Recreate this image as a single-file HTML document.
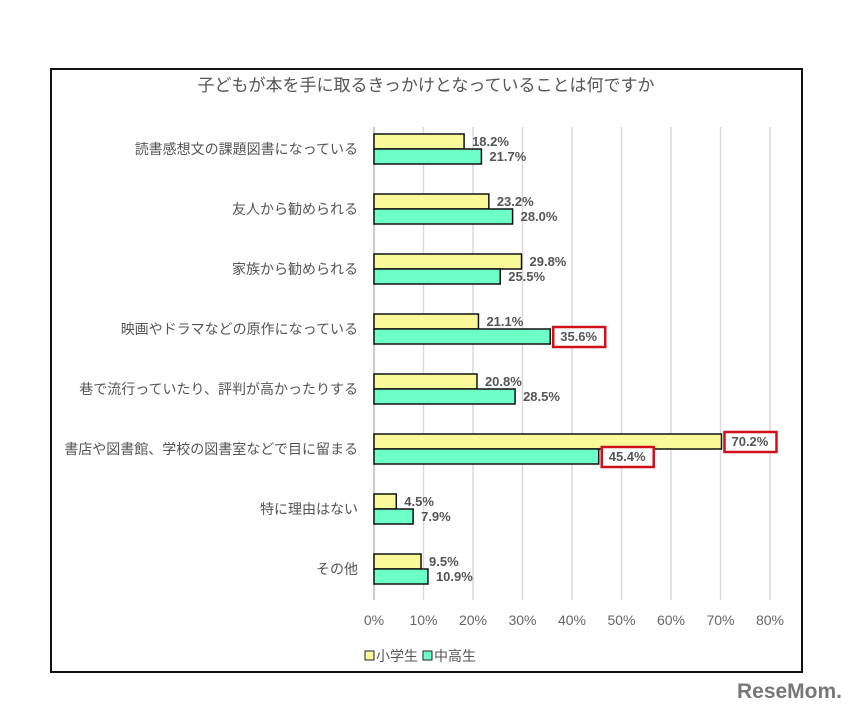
<!DOCTYPE html>
<html><head><meta charset="utf-8"><style>
body{margin:0;background:#fff;width:854px;height:708px;overflow:hidden;font-family:"Liberation Sans","Noto Sans CJK JP",sans-serif}
</style></head><body>
<svg id="c" width="854" height="708" xmlns="http://www.w3.org/2000/svg">
<rect x="51" y="69" width="751" height="603" fill="#fff" stroke="#111" stroke-width="2"/>
<text x="426" y="91" text-anchor="middle" font-size="17" fill="#555">子どもが本を手に取るきっかけとなっていることは何ですか</text>
<g id="grid"></g><g id="bars"></g><g id="labels"></g>
<g>
<rect x="365" y="651" width="9" height="9" fill="#fafa9a" stroke="#222"/>
<text x="376" y="661" font-size="14" fill="#555">小学生</text>
<rect x="423" y="651" width="9" height="9" fill="#6dffc8" stroke="#222"/>
<text x="434" y="661" font-size="14" fill="#555">中高生</text>
</g>
<text x="842" y="698" text-anchor="end" font-size="21" font-weight="bold" fill="#777">ReseMom.</text>
</svg>
<script>
const categories=["読書感想文の課題図書になっている","友人から勧められる","家族から勧められる","映画やドラマなどの原作になっている","巷で流行っていたり、評判が高かったりする","書店や図書館、学校の図書室などで目に留まる","特に理由はない","その他"];
const elementary=[18.2,23.2,29.8,21.1,20.8,70.2,4.5,9.5];
const secondary=[21.7,28.0,25.5,35.6,28.5,45.4,7.9,10.9];
const highlightElem=[false,false,false,false,false,true,false,false];
const highlightSec=[false,false,false,true,false,true,false,false];
const ticks=[0,10,20,30,40,50,60,70,80];
const NS="http://www.w3.org/2000/svg";
const x=v=>374+v*4.95;
const yc=i=>149+i*60;
function mk(t,a,p){const e=document.createElementNS(NS,t);for(const k in a)e.setAttribute(k,a[k]);p.appendChild(e);return e;}
const G=document.getElementById('grid'),B=document.getElementById('bars'),L=document.getElementById('labels');
ticks.forEach(t=>{
 const l=mk('line',{x1:x(t),x2:x(t),y1:127,y2:600,stroke:t===0?'#bbb':'#d9d9d9','stroke-width':1.5},G);
 
 
 const tx=mk('text',{x:x(t),y:625,'text-anchor':'middle','font-size':14,fill:'#666'},G);tx.textContent=t+'%';
 
 
});
categories.forEach((c,i)=>{
 const t=mk('text',{x:358,y:yc(i)+5,'text-anchor':'end','font-size':14,fill:'#555'},L);t.textContent=c;
 
 
 [[elementary,'#fafa9a',yc(i)-15,highlightElem,'elementary'],[secondary,'#6dffc8',yc(i),highlightSec,'secondary']].forEach(([arr,col,y,hl,nm])=>{
  const r=mk('rect',{x:x(0),y:y,width:x(arr[i])-x(0),height:15,fill:col,stroke:'#111','stroke-width':1.5},B);
  
  
  const lx=x(arr[i])+8,ly=y+12;
  if(hl[i]){const b=mk('rect',{x:lx-5,y:y-2,width:52,height:20,fill:'#fff',stroke:'#d0101a','stroke-width':2.5},L);
   
   }
  const v=mk('text',{x:lx+(hl[i]?2:0),y:ly,'font-size':13,'font-weight':'bold',fill:'#555'},L);v.textContent=arr[i].toFixed(1)+'%';
  
  
 });
});
</script>
</body></html>
